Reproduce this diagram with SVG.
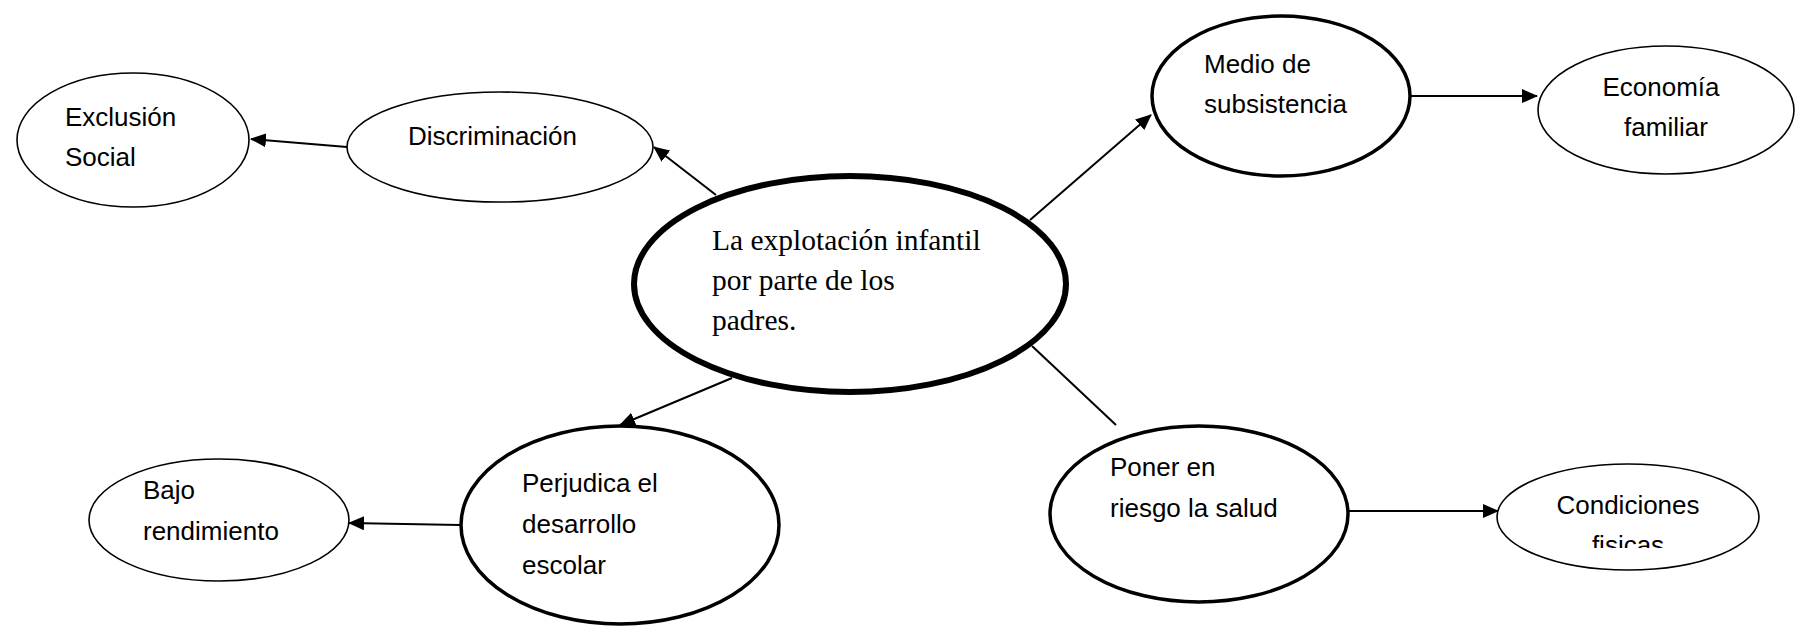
<svg xmlns="http://www.w3.org/2000/svg" width="1798" height="629" viewBox="0 0 1798 629">
<style>
.n{fill:#fff;stroke:#000}
.thin{stroke-width:1.6}
.med{stroke-width:3.5}
.thick{stroke-width:6}
.t{font-family:"Liberation Sans",Arial,sans-serif;font-size:26px;fill:#000}
.s{font-family:"Liberation Serif","Times New Roman",serif;font-size:29.5px;fill:#000}
.c{stroke:#000;stroke-width:2;fill:none}
</style>
<defs>
<marker id="ah" markerWidth="10" markerHeight="10" refX="9" refY="5" orient="auto" markerUnits="userSpaceOnUse" viewBox="0 0 10 10">
<path d="M0,0 L10,5 L0,10 z" fill="#000"/>
</marker>
<marker id="a" markerWidth="16" markerHeight="14" refX="15" refY="7" orient="auto" markerUnits="userSpaceOnUse">
<path d="M0,0 L16,7 L0,14 z" fill="#000"/>
</marker>
<clipPath id="cc"><rect x="1490" y="460" width="280" height="88"/></clipPath>
</defs>
<rect width="1798" height="629" fill="#fff"/>
<g id="connectors">
<line class="c" x1="347" y1="147" x2="251" y2="139" marker-end="url(#a)"/>
<line class="c" x1="716" y1="195" x2="654" y2="147" marker-end="url(#a)"/>
<line class="c" x1="1030" y1="220" x2="1151" y2="115" marker-end="url(#a)"/>
<line class="c" x1="1410" y1="96" x2="1537" y2="96" marker-end="url(#a)"/>
<line class="c" x1="732" y1="378" x2="620" y2="425" marker-end="url(#a)"/>
<line class="c" x1="460" y1="525" x2="349" y2="523" marker-end="url(#a)"/>
<line class="c" x1="1032" y1="346" x2="1116" y2="425"/>
<line class="c" x1="1349" y1="511" x2="1498" y2="511" marker-end="url(#a)"/>
</g>
<g id="exclusion">
<ellipse class="n thin" cx="133" cy="140" rx="116" ry="67"/>
<text class="t" x="65" y="126">Exclusión</text>
<text class="t" x="65" y="166">Social</text>
</g>
<g id="discriminacion">
<ellipse class="n thin" cx="500" cy="147" rx="153" ry="55"/>
<text class="t" x="408" y="145">Discriminación</text>
</g>
<g id="centro">
<ellipse class="n thick" cx="850" cy="284" rx="216" ry="108"/>
<text class="s" x="712" y="250">La explotación infantil</text>
<text class="s" x="712" y="290">por parte de los</text>
<text class="s" x="712" y="330">padres.</text>
</g>
<g id="medio">
<ellipse class="n med" cx="1281" cy="96" rx="129" ry="80"/>
<text class="t" x="1204" y="73">Medio de</text>
<text class="t" x="1204" y="113">subsistencia</text>
</g>
<g id="economia">
<ellipse class="n thin" cx="1666" cy="110" rx="128" ry="64"/>
<text class="t" x="1661" y="96" text-anchor="middle">Economía</text>
<text class="t" x="1666" y="136" text-anchor="middle">familiar</text>
</g>
<g id="perjudica">
<ellipse class="n med" cx="620" cy="525" rx="159" ry="99"/>
<text class="t" x="522" y="492">Perjudica el</text>
<text class="t" x="522" y="533">desarrollo</text>
<text class="t" x="522" y="574">escolar</text>
</g>
<g id="bajo">
<ellipse class="n thin" cx="219" cy="520" rx="130" ry="61"/>
<text class="t" x="143" y="499">Bajo</text>
<text class="t" x="143" y="540">rendimiento</text>
</g>
<g id="poner">
<ellipse class="n med" cx="1199" cy="514" rx="149" ry="88"/>
<text class="t" x="1110" y="476">Poner en</text>
<text class="t" x="1110" y="517">riesgo la salud</text>
</g>
<g id="condiciones">
<ellipse class="n thin" cx="1628" cy="517" rx="131" ry="53"/>
<text class="t" x="1628" y="514" text-anchor="middle">Condiciones</text>
<text class="t" x="1628" y="554" text-anchor="middle" clip-path="url(#cc)">fisicas</text>
</g>
</svg>
